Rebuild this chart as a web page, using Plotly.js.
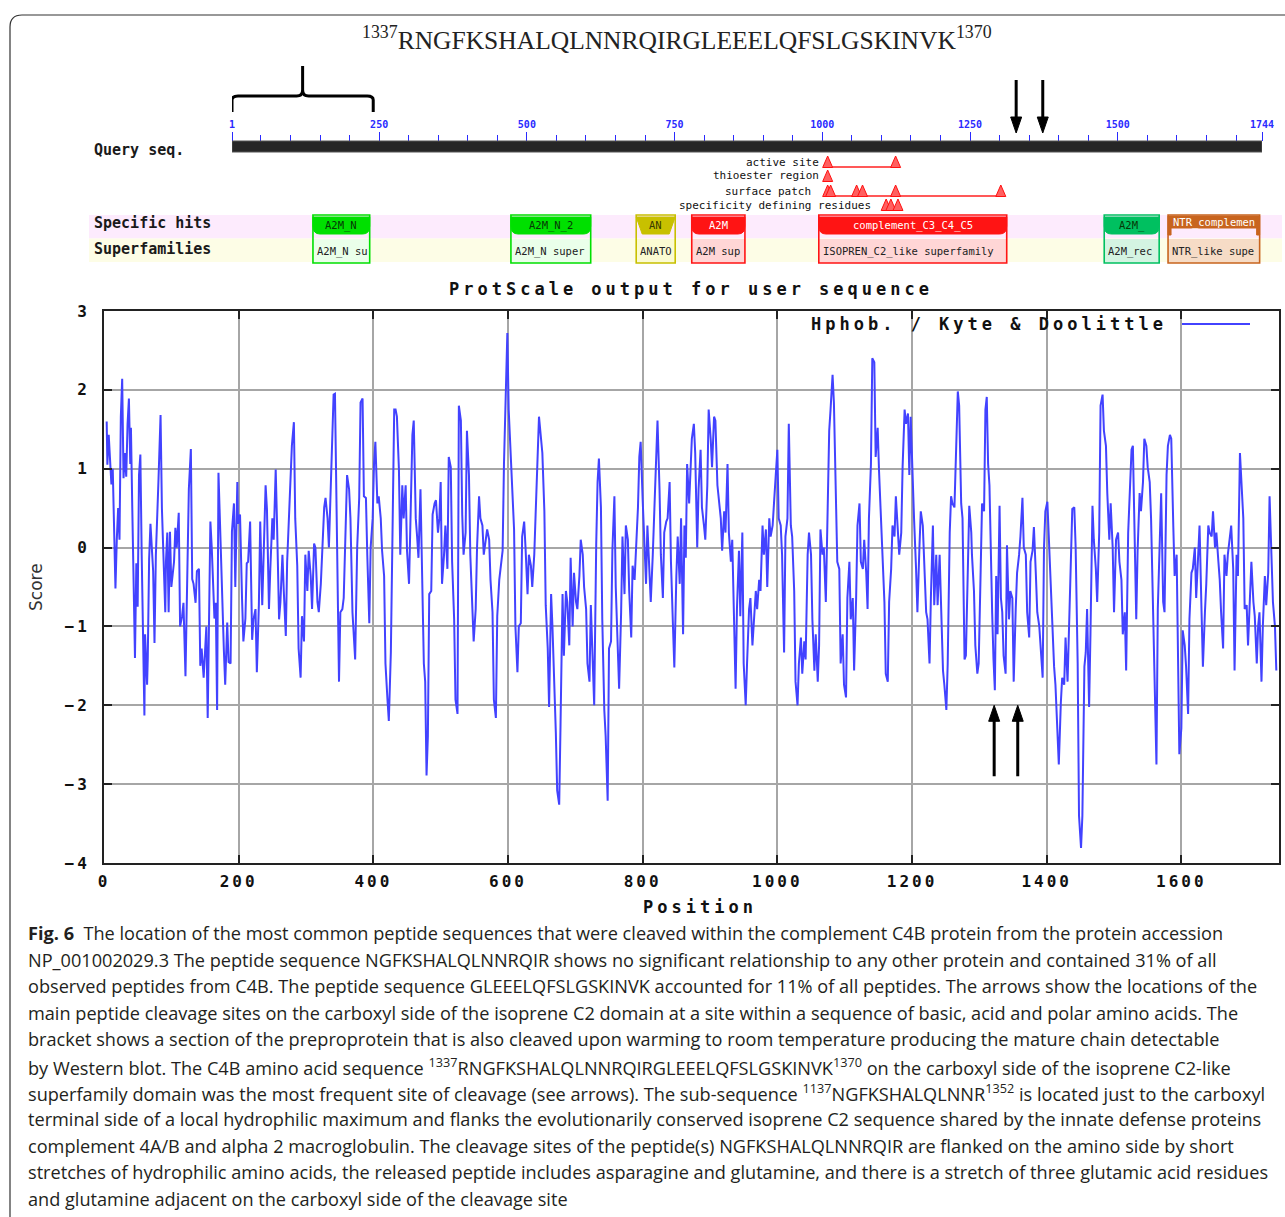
<!DOCTYPE html>
<html><head><meta charset="utf-8">
<script src="https://cdn.plot.ly/plotly-3.0.1.min.js"></script>
<style>
html,body{margin:0;padding:0;background:#fff}
#chart{width:1285px;height:1217px}
.xtick text,.ytick text{letter-spacing:3px}
</style>
</head><body><div id="chart"></div>
<script>
// ---------------- DATA ----------------
// Kyte & Doolittle hydropathy profile (position, score)
const position = [
4,5,7,11,13,15,17,19,21,23,25,27,29,31,33,35,37,39,40,42,44,46,48,50,52,54,56,58,60,61,64,65,67,69,71,73,75,77,81,84,86,88,91,92,94,96,98,100,102,104,106,108,111,113,116,118,121,123,126,129,131,133,136,138,141,143,145,148,152,154,156,158,160,162,164,166,168,170,173,175,178,180,183,185,188,190,193,195,198,199,202,205,207,210,212,
214,217,220,222,225,227,230,232,235,237,240,242,245,247,250,252,255,257,260,262,265,267,270,272,274,277,279,282,284,287,289,292,294,297,299,302,304,307,309,312,314,317,319,322,324,327,329,332,334,337,339,341,343,345,349,351,354,356,359,361,364,366,369,371,373,376,379,381,384,386,389,391,394,396,399,401,403,406,408,411,413,416,418,421,423,426,428,431,
433,435,438,440,443,445,448,450,453,455,458,460,463,465,467,470,472,475,477,479,481,483,486,488,491,493,496,498,500,502,505,507,510,512,515,517,520,522,525,527,530,532,534,537,539,542,544,547,549,552,554,557,559,562,564,567,569,572,574,577,579,582,584,587,589,592,594,596,599,601,604,606,609,611,614,616,619,621,624,626,629,631,634,636,639,641,644,646,
651,654,656,659,661,664,666,669,671,673,676,678,681,683,686,688,691,693,696,698,701,703,706,708,711,713,716,718,721,723,726,728,731,733,735,738,740,743,745,748,750,753,755,758,760,763,765,768,770,773,775,778,780,783,785,788,790,793,795,797,800,802,805,807,810,812,815,817,820,822,825,827,830,832,835,837,840,842,845,847,850,852,855,857,860,862,
864,866,869,871,873,876,878,881,883,886,888,891,893,896,898,901,903,906,908,911,913,916,918,921,923,926,928,931,933,935,938,940,943,945,948,950,953,955,958,960,963,965,968,970,973,975,978,980,983,985,988,990,993,995,998,1000,1002,1005,1007,1010,1012,1015,1017,1020,1022,1025,1027,1030,1032,1035,1037,1040,1042,1045,1047,1050,1052,1055,1057,1060,1062,1064,1067,1069,1072,1074,1077,
1079,1082,1084,1087,1089,1092,1094,1097,1099,1102,1104,1107,1109,1112,1114,1117,1119,1122,1124,1127,1129,1132,1134,1136,1139,1141,1144,1146,1149,1151,1154,1156,1159,1161,1164,1166,1169,1171,1174,1176,1179,1181,1184,1186,1189,1191,1194,1196,1198,1201,1203,1206,1208,1211,1213,1216,1218,1221,1223,1226,1228,1231,1233,1236,1238,1241,1243,1246,1248,1251,1253,1256,1258,1260,1263,1265,1268,1270,1273,1275,1278,1280,1283,1285,1288,
1289,1292,1294,1297,1299,1302,1304,1307,1309,1311,1313,1315,1317,1319,1321,1323,1325,1327,1330,1332,1334,1336,1339,1341,1344,1346,1349,1351,1354,1356,1359,1361,1364,1366,1369,1371,1374,1376,1379,1381,1384,1386,1389,1391,1394,1396,1398,1401,1403,1406,1408,1411,1413,1416,1418,1421,1423,1426,1428,1431,1433,1436,1438,1441,1443,1446,1448,1451,1453,1456,1458,1460,1463,1465,1468,1470,1473,1475,1478,1480,1483,1485,1488,1490,1493,1495,1498,1500,1503,
1506,1508,1511,1513,1516,1518,1521,1523,1526,1528,1531,1533,1535,1538,1540,1543,1545,1548,1550,1553,1555,1558,1560,1563,1565,1568,1570,1573,1575,1578,1580,1583,1585,1588,1590,1593,1595,1597,1600,1602,1605,1607,1610,1612,1615,1617,1620,1622,1625,1627,1630,1632,1635,1637,1640,1642,1645,1647,1650,1652,1655,1657,1659,1662,1664,1667,1669,1672,1674,1677,1679,1682,1684,1687,1689,1692,1694,1697,1699,1702,1704,1707,1709,1712,1714,1716,1719,1721,1724,1726,1729,1731,1734,1736,1739,1741
];
const score = [
1.6,1.05,1.43,0.8,1.0,-0.05,-0.52,0.1,0.5,0.1,1.66,2.14,0.88,1.2,0.9,1.57,1.89,1.06,1.52,0.5,-0.52,-1.4,-0.2,-0.75,0.92,1.18,-0.1,-1.26,-2.13,-1.1,-1.74,-1.4,-0.15,0.3,-0.1,-0.3,-1.21,-0.1,0.88,1.68,0.5,-0.1,-0.82,-0.18,0.19,-0.82,0.2,-0.5,-0.36,-0.18,0.25,0.0,0.44,-1.0,-0.87,-0.7,-1.63,-0.55,0.74,1.25,-0.4,-0.46,-0.7,-0.3,-0.27,-1.5,-1.28,-1.65,-1.0,-2.16,-0.7,0.33,0.0,-0.5,-0.9,-0.7,-2.06,0.95,0.1,-0.7,-1.3,-1.74,-0.95,-1.45,-1.47,0.2,0.56,-0.5,0.83,0.3,0.42,-0.65,-1.19,-0.9,-0.2,
-0.18,0.33,-1.17,-0.91,-0.78,-1.58,-0.73,0.33,-0.73,-0.09,0.79,0.49,-0.78,-0.27,0.37,0.1,0.99,0.3,-0.91,-0.69,-0.09,-0.55,-1.12,-0.18,0.19,0.83,1.29,1.59,0.37,-0.23,-1.28,-1.65,-0.87,-1.19,-0.09,-0.55,-0.04,-0.36,-0.78,0.05,0.0,-0.69,-0.82,-0.46,-0.04,0.51,0.63,0.37,0.0,0.92,1.29,1.94,1.95,0.92,-1.7,-0.82,-0.78,-0.64,0.56,0.92,0.74,0.37,-0.82,-1.19,-1.42,0.0,0.63,1.84,1.89,0.65,0.63,-0.09,-0.96,0.0,0.37,1.06,1.34,0.56,0.65,0.37,-0.04,-0.36,-1.47,-1.93,-2.2,-1.33,-0.18,1.75,
1.75,1.66,0.99,-0.09,0.79,0.37,0.79,-0.04,-0.46,0.28,1.43,1.61,0.37,0.14,-0.13,0.74,-0.23,-1.47,-1.7,-2.89,-2.39,-0.59,-0.55,0.42,0.56,0.6,0.19,0.37,0.83,-0.46,-0.09,0.28,-0.27,1.15,1.02,-0.18,-0.91,-1.93,-2.11,1.8,1.61,0.42,-0.09,0.19,1.48,0.92,-0.09,-0.69,-1.19,-0.78,0.0,0.65,0.37,0.28,-0.09,0.1,0.23,0.1,-0.41,-0.82,-1.93,-2.16,-0.87,-0.41,-0.27,-0.04,1.06,1.89,2.72,1.75,1.15,0.92,0.23,-1.0,-1.58,-1.0,-0.96,0.14,0.33,0.0,-0.59,-0.09,-0.23,-0.5,-0.09,0.42,1.06,1.66,
1.2,0.46,-0.73,-1.28,-2.02,-0.59,-1.0,-1.74,-2.34,-3.08,-3.26,-2.25,-0.59,-1.37,-0.55,-0.69,-1.24,-0.13,-1.0,-0.32,-0.69,-0.78,-0.36,0.1,-0.09,-0.5,-0.78,-1.47,-1.7,-0.73,-1.47,-2.0,0.05,0.83,1.13,0.51,-0.91,-2.06,-2.39,-3.21,-1.28,-1.19,-0.04,0.65,-0.5,-1.24,-1.79,-0.82,0.14,-0.59,0.28,0.1,-0.55,-1.14,-0.23,-0.41,-0.09,0.51,1.15,1.34,0.6,0.1,-0.46,0.28,-0.46,-0.69,-0.09,0.46,1.34,1.61,0.74,-0.09,-0.64,0.19,0.33,0.37,0.83,-0.18,-1.0,-1.52,-0.36,0.14,-0.46,0.37,-1.1,0.28,
-0.13,1.06,0.56,1.02,1.38,1.57,1.2,0.0,0.74,1.24,0.51,0.28,0.1,0.79,1.75,1.38,1.02,1.66,1.61,0.79,0.65,0.37,-0.04,0.46,0.19,1.06,0.19,-0.18,0.1,-0.69,-1.79,-0.78,-0.04,-0.87,0.19,-1.47,-2.0,-1.47,-0.78,-0.64,-1.24,-0.96,-0.55,-0.78,-0.41,-0.55,0.28,-0.09,0.23,-0.5,0.37,0.14,0.28,0.56,0.97,1.24,0.37,0.28,-0.09,-1.33,0.14,0.37,1.57,0.28,0.14,-0.55,-1.7,-2.0,-1.47,-1.14,-1.6,-1.19,-1.42,-0.09,0.19,-0.09,-0.91,-1.56,-1.1,-1.7,-1.24,0.23,-0.09,0.0,-0.69,0.37,1.48,
1.75,2.19,1.84,0.69,-0.18,-0.27,-1.47,-1.1,-1.74,-1.9,-0.64,-0.18,-0.91,-0.64,-1.56,-0.64,0.28,0.56,-0.18,-0.27,0.1,-0.32,-0.78,0.37,1.06,2.4,2.35,1.15,1.52,0.97,0.37,-0.09,-0.69,-1.6,-1.7,-0.69,-0.27,0.28,0.14,0.65,0.19,-0.09,0.19,1.02,1.75,1.57,1.7,0.92,1.66,0.69,0.37,-0.27,-0.82,0.0,0.46,0.28,-0.18,-0.82,-0.91,-1.47,-0.64,0.28,-0.73,-0.09,-0.73,-0.09,-0.69,-1.56,-1.74,-2.06,-1.47,0.19,0.65,0.56,0.51,1.06,1.98,1.8,0.56,0.37,-1.42,-1.37,0.0,0.53,0.19,
-0.09,-0.55,-1.24,-1.6,-1.47,-0.27,0.56,0.46,1.75,1.91,1.06,0.79,-0.27,-0.82,-1.42,-1.81,-0.36,-1.1,0.53,-0.64,-0.82,-1.37,-1.6,0.03,-0.91,-0.55,-0.64,-1.7,-0.78,-0.32,-0.09,0.14,0.63,0.0,-0.09,-0.82,-1.14,-0.18,-0.04,0.26,-0.36,-0.82,-1.0,-1.24,-1.65,0.0,0.46,0.58,0.19,-0.41,-1.0,-1.51,-1.74,-2.25,-2.75,-1.97,-1.65,-1.74,-1.14,-1.7,-1.1,0.07,0.49,0.51,0.0,-1.47,-3.4,-3.81,-3.4,-1.51,-1.33,-0.78,-2.02,-1.1,0.53,0.1,-0.27,-0.69,0.19,1.8,1.94,1.48,1.29,0.69,0.1,0.56,0.0,-0.82,0.1,
0.19,-0.18,-0.41,-1.1,-0.82,-1.56,0.19,0.6,1.24,1.29,0.1,-0.91,-0.04,0.69,0.46,0.83,1.38,1.29,1.02,0.83,0.37,-0.82,-1.74,-2.75,-0.78,0.14,0.69,-0.69,-0.82,0.92,1.29,1.43,1.38,0.28,-0.36,-0.09,-1.56,-2.62,-2.29,-1.05,-1.24,-1.51,-2.11,-0.91,-0.32,-0.27,0.0,-0.64,-0.09,0.28,-0.82,-1.51,-0.82,-0.46,0.28,0.19,0.14,0.46,0.0,0.19,-0.18,-0.41,-0.82,-1.28,-0.09,-0.36,-0.09,0.14,0.28,-0.27,-1.56,-0.09,-0.36,1.2,0.92,0.37,-0.78,-0.73,-1.24,-0.55,-0.18,-0.69,-0.87,-1.47,-1.0,-0.82,-1.7,-1.0,-0.36,-0.73,-0.32,0.65,-0.36,-0.69,-1.0,-1.56
];
const xTicks = [0, 200, 400, 600, 800, 1000, 1200, 1400, 1600];
const yTicks = [-4, -3, -2, -1, 0, 1, 2, 3];
const seqLength = 1744;
const rulerTicks = [1, 250, 500, 750, 1000, 1250, 1500, 1744];

// conserved domain hits (residue ranges)
const hitNames   = ['A2M_N', 'A2M_N_2', 'AN', 'A2M', 'complement_C3_C4_C5', 'A2M_', 'NTR_complemen'];
const superNames = ['A2M_N su', 'A2M_N super', 'ANATO', 'A2M sup', 'ISOPREN_C2_like superfamily', 'A2M_rec', 'NTR_like supe'];
const hitStart   = [138, 473, 685, 779, 994, 1477, 1585];
const hitEnd     = [234, 608, 751, 869, 1312, 1570, 1740];

// site features (residues)
const featureNames = ['active site', 'thioester region', 'surface patch', 'specificity defining residues'];
const featureSites = [[1009, 1124], [1009], [1009, 1014, 1058, 1068, 1124, 1302], [1108, 1116, 1128]];

const bracketRange = [1, 240];
const rulerArrowSites = [1328, 1373];
const plotArrowSites = [1322, 1357];
const plotArrowSpan = [-2.0, -2.9];   // tip and tail scores of the plot arrows

const topTitle = '<sup>1337</sup>RNGFKSHALQLNNRQIRGLEEELQFSLGSKINVK<sup>1370</sup>';
const captionLines = [
  '<b>Fig. 6</b>\u00a0\u00a0The location of the most common peptide sequences that were cleaved within the complement C4B protein from the protein accession',
  'NP_001002029.3 The peptide sequence NGFKSHALQLNNRQIR shows no significant relationship to any other protein and contained 31% of all',
  'observed peptides from C4B. The peptide sequence GLEEELQFSLGSKINVK accounted for 11% of all peptides. The arrows show the locations of the',
  'main peptide cleavage sites on the carboxyl side of the isoprene C2 domain at a site within a sequence of basic, acid and polar amino acids. The',
  'bracket shows a section of the preproprotein that is also cleaved upon warming to room temperature producing the mature chain detectable',
  'by Western blot. The C4B amino acid sequence <sup>1337</sup>RNGFKSHALQLNNRQIRGLEEELQFSLGSKINVK<sup>1370</sup> on the carboxyl side of the isoprene C2-like',
  'superfamily domain was the most frequent site of cleavage (see arrows). The sub-sequence <sup>1137</sup>NGFKSHALQLNNR<sup>1352</sup> is located just to the carboxyl',
  'terminal side of a local hydrophilic maximum and flanks the evolutionarily conserved isoprene C2 sequence shared by the innate defense proteins',
  'complement 4A/B and alpha 2 macroglobulin. The cleavage sites of the peptide(s) NGFKSHALQLNNRQIR are flanked on the amino side by short',
  'stretches of hydrophilic amino acids, the released peptide includes asparagine and glutamine, and there is a stretch of three glutamic acid residues',
  'and glutamine adjacent on the carboxyl side of the cleavage site'
];

// ---------------- STYLE / LAYOUT ----------------
const W = 1285, H = 1217;
const px = v => v / W, py = v => 1 - v / H;
const MONO = 'DejaVu Sans Mono, Liberation Mono, monospace';
const TRACE = 'rgb(66,66,255)';
const RPP = (seqLength - 1) / (1262 - 232);   // residues per header pixel
const XPP = 1745 / (1279 - 104);               // positions per plot pixel
const YPP = 7 / (863 - 311);                   // score per plot pixel
const hitColor  = ['#00e000', '#00e000', '#c8c000', '#ff1414', '#ff1414', '#00c060', '#c8641e'];
const hitText   = ['#063806', '#063806', '#3a3a00', '#ffffff', '#ffffff', '#063806', '#ffffff'];
const superFill = ['#eaffea', '#eaffea', '#fbfbd2', '#ffd6d6', '#ffd6d6', '#d4f4e2', '#f6dcc6'];
const hitKind   = ['round', 'round', 'trap', 'round', 'round', 'round', 'bracket'];
const featureY = [162, 176, 191, 205];
const featureLabelRight = [820, 820, 812, 872];

const shapes = [], annotations = [];
const spacedTexts = [];

function label(x, y, text, font, xanchor, extra) {
  annotations.push(Object.assign({xref: 'paper', yref: 'paper', x: px(x), y: py(y), text: text,
    showarrow: false, xanchor: xanchor || 'left', yanchor: 'middle', align: xanchor === 'right' ? 'right' : (xanchor === 'center' ? 'center' : 'left'),
    font: font, borderpad: 0}, extra || {}));
}

// outer frame
shapes.push({type: 'path', xref: 'paper', yref: 'paper',
  path: `M ${px(10)},${py(1217)} L ${px(10)},${py(27)} Q ${px(10)},${py(15)} ${px(22)},${py(15)} L ${px(1285)},${py(15)}`,
  line: {color: '#333', width: 1.2}});

// top title
label(677, 38, topTitle, {family: 'Liberation Serif, DejaVu Serif, serif', size: 25.5, color: '#222'}, 'center');

// bracket
(function () {
  const a = bracketRange[0], b = bracketRange[1], m = (a + b) / 2, k = RPP;
  shapes.push({type: 'path', xref: 'x2', yref: 'y2', line: {color: '#000', width: 3},
    path: `M ${a},112 L ${a},100 Q ${a},96 ${a + 6 * k},96 L ${m - 6 * k},96 Q ${m},96 ${m},90 L ${m},66 M ${m},90 Q ${m},96 ${m + 6 * k},96 L ${b - 6 * k},96 Q ${b},96 ${b},100 L ${b},112`});
})();

// ruler arrows (down)
rulerArrowSites.forEach(r => {
  shapes.push({type: 'line', xref: 'x2', yref: 'y2', x0: r, x1: r, y0: 80, y1: 120, line: {color: '#000', width: 3}});
  shapes.push({type: 'path', xref: 'x2', yref: 'y2', path: `M ${r - 5.5 * RPP},117 L ${r},133 L ${r + 5.5 * RPP},117 Z`,
    fillcolor: '#000', line: {color: '#000', width: 1}});
});

// query bar
shapes.push({type: 'rect', xref: 'x2', yref: 'y2', x0: 1, x1: seqLength, y0: 141, y1: 152, fillcolor: '#262626', line: {color: '#555', width: 1}});
label(93, 150, 'Query seq.', {family: MONO, size: 15, color: '#1a1a1a', weight: 'bold'});

// features
featureNames.forEach((name, i) => {
  const y = featureY[i], sites = featureSites[i];
  label(featureLabelRight[i], y, name, {family: MONO, size: 11, color: '#111'}, 'right');
  if (sites.length > 1) {
    shapes.push({type: 'line', xref: 'x2', yref: 'y2', x0: sites[0], x1: sites[sites.length - 1], y0: y + 5, y1: y + 5, line: {color: '#ff2020', width: 1.5}});
  }
  sites.forEach(r => shapes.push({type: 'path', xref: 'x2', yref: 'y2',
    path: `M ${r - 5 * RPP},${y + 5.5} L ${r},${y - 6} L ${r + 5 * RPP},${y + 5.5} Z`,
    fillcolor: '#ff6060', line: {color: '#ff1010', width: 1}}));
});

// bands
shapes.push({type: 'rect', xref: 'paper', yref: 'y2', x0: px(89), x1: px(1282), y0: 215, y1: 238.5, fillcolor: '#fdebfd', line: {width: 0}, layer: 'below'});
shapes.push({type: 'rect', xref: 'paper', yref: 'y2', x0: px(89), x1: px(1282), y0: 238.5, y1: 262, fillcolor: '#fdfde6', line: {width: 0}, layer: 'below'});
label(93, 223, 'Specific hits', {family: MONO, size: 15, color: '#1a1a1a', weight: 'bold'});
label(93, 249, 'Superfamilies', {family: MONO, size: 15, color: '#1a1a1a', weight: 'bold'});

// domain boxes
hitNames.forEach((name, i) => {
  const s = hitStart[i], e = hitEnd[i], c = hitColor[i], k = RPP;
  shapes.push({type: 'rect', xref: 'x2', yref: 'y2', x0: s, x1: e, y0: 239, y1: 263, fillcolor: superFill[i], line: {width: 0}});
  shapes.push({type: 'rect', xref: 'x2', yref: 'y2', x0: s, x1: e, y0: 215, y1: 263, line: {color: c, width: 1.6}});
  let p, ty = 225;
  if (hitKind[i] === 'trap') {
    p = `M ${s},217 L ${e},217 L ${e - 6 * k},234 L ${s + 6 * k},234 Z`;
  } else if (hitKind[i] === 'bracket') {
    p = `M ${s},216 L ${e},216 L ${e},235 L ${e - 3 * k},235 L ${e - 3 * k},228 L ${s + 3 * k},228 L ${s + 3 * k},235 L ${s},235 Z`;
    ty = 222;
  } else {
    p = `M ${s},217 L ${e},217 L ${e},226 Q ${e},234 ${e - 7 * k},234 L ${s + 7 * k},234 Q ${s},234 ${s},226 Z`;
  }
  shapes.push({type: 'path', xref: 'x2', yref: 'y2', path: p, fillcolor: c, line: {color: c, width: 1}});
  annotations.push({xref: 'x2', yref: 'y2', x: (s + e) / 2, y: ty, text: name, showarrow: false,
    xanchor: 'center', yanchor: 'middle', font: {family: MONO, size: 10.5, color: hitText[i]}});
  annotations.push({xref: 'x2', yref: 'y2', x: s + 2 * k, y: 251, text: superNames[i], showarrow: false,
    xanchor: 'left', yanchor: 'middle', align: 'left', font: {family: MONO, size: 10.5, color: '#222'}});
});

// ProtScale plot texts
const GFONT = {family: MONO, size: 17, color: '#111', weight: 'bold'};
label(448, 289, 'ProtScale output for user sequence', GFONT);
spacedTexts.push('ProtScale output for user sequence');
label(642, 907, 'Position', GFONT);
spacedTexts.push('Position');
label(810, 324, 'Hphob. / Kyte &amp; Doolittle', GFONT);
spacedTexts.push('Hphob. / Kyte & Doolittle');
shapes.push({type: 'line', xref: 'paper', yref: 'paper', x0: px(1182), x1: px(1250), y0: py(324), y1: py(324), line: {color: TRACE, width: 1.8}});
label(36, 587, 'Score', {family: 'DejaVu Sans, sans-serif', size: 17, color: '#333'}, 'center', {textangle: -90});

// plot arrows (up)
plotArrowSites.forEach(r => {
  const tip = plotArrowSpan[0], tail = plotArrowSpan[1];
  shapes.push({type: 'line', xref: 'x', yref: 'y', x0: r, x1: r, y0: tail, y1: tip - 12 * YPP, line: {color: '#000', width: 3}});
  shapes.push({type: 'path', xref: 'x', yref: 'y',
    path: `M ${r - 5.5 * XPP},${tip - 16 * YPP} L ${r},${tip} L ${r + 5.5 * XPP},${tip - 16 * YPP} Z`,
    fillcolor: '#000', line: {color: '#000', width: 1}});
});

// caption
captionLines.forEach((t, i) => label(27, 933 + i * 26.6, t,
  {family: 'Open Sans, Noto Sans, sans-serif', size: 18.15, color: '#231f20'}));

const axisCommon = {
  showgrid: true, gridcolor: '#a6a6a6', gridwidth: 2, zeroline: false,
  showline: true, linecolor: '#222', linewidth: 2, mirror: 'allticks',
  ticks: 'inside', ticklen: 8, tickwidth: 2, tickcolor: '#222',
  tickfont: {family: MONO, size: 16, color: '#111', weight: 'bold'}
};

const layout = {
  width: W, height: H, margin: {l: 0, r: 0, t: 0, b: 0},
  paper_bgcolor: '#fff', plot_bgcolor: '#fff', showlegend: false,
  xaxis: Object.assign({}, axisCommon, {domain: [px(104), px(1279)], range: [0, 1745], anchor: 'y',
    tickmode: 'array', tickvals: xTicks, ticklabelstandoff: 3}),
  yaxis: Object.assign({}, axisCommon, {domain: [py(863), py(311)], range: [-4, 3], anchor: 'x',
    tickmode: 'array', tickvals: yTicks, ticklabelstandoff: 9}),
  xaxis2: {domain: [px(232), px(1262)], range: [1, seqLength], anchor: 'free', position: py(141), side: 'top',
    tickmode: 'array', tickvals: rulerTicks, ticktext: rulerTicks.map(String),
    ticks: 'outside', ticklen: 9, tickwidth: 1, tickcolor: '#2a2aff',
    tickfont: {family: MONO, size: 10, color: '#2a2aff', weight: 'bold'},
    showgrid: false, zeroline: false, showline: false, ticklabelstandoff: 0,
    minor: {tickmode: 'linear', tick0: 0, dtick: 50, ticks: 'outside', ticklen: 6, tickwidth: 1, tickcolor: '#2a2aff', showgrid: false}},
  yaxis2: {domain: [py(300), 1], range: [300, 0], anchor: 'x2', visible: false},
  shapes: shapes, annotations: annotations
};

const data = [
  {type: 'scatter', mode: 'lines', x: position, y: score, xaxis: 'x', yaxis: 'y',
   name: 'Hphob. / Kyte & Doolittle', line: {color: TRACE, width: 2}, hoverinfo: 'skip'},
  {type: 'scatter', mode: 'lines', x: [], y: [], xaxis: 'x2', yaxis: 'y2', hoverinfo: 'skip', showlegend: false}
];

Plotly.newPlot('chart', data, layout, {staticPlot: true, displayModeBar: false}).then(gd => {
  const set = new Set(spacedTexts);
  gd.querySelectorAll('.annotation-text').forEach(t => {
    if (set.has(t.textContent)) t.style.letterSpacing = '4px';
  });
});
</script>
</body></html>
